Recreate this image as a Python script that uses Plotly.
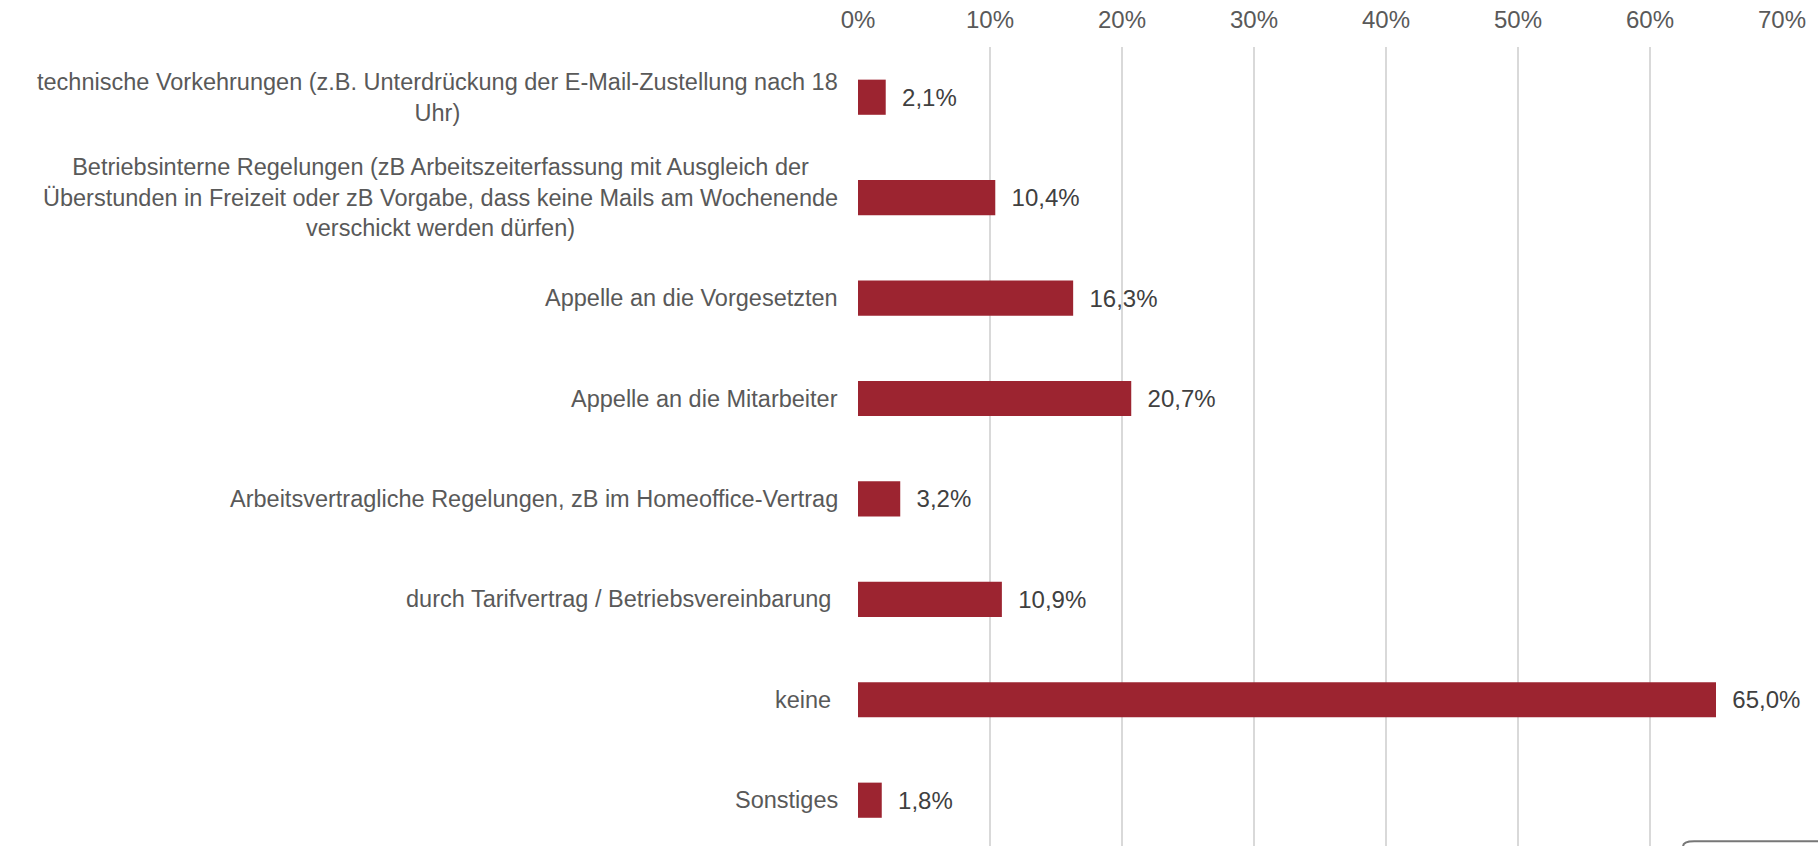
import plotly.graph_objects as go

categories = [
    "technische Vorkehrungen (z.B. Unterdrückung der E-Mail-Zustellung nach 18<br>Uhr)",
    "Betriebsinterne Regelungen (zB Arbeitszeiterfassung mit Ausgleich der<br>Überstunden in Freizeit oder zB Vorgabe, dass keine Mails am Wochenende<br>verschickt werden dürfen)",
    "Appelle an die Vorgesetzten",
    "Appelle an die Mitarbeiter",
    "Arbeitsvertragliche Regelungen, zB im Homeoffice-Vertrag",
    "durch Tarifvertrag / Betriebsvereinbarung\u00a0",
    "keine\u00a0",
    "Sonstiges",
]
values = [2.1, 10.4, 16.3, 20.7, 3.2, 10.9, 65.0, 1.8]
tick_values = [0, 10, 20, 30, 40, 50, 60, 70]
tick_labels = ["0%", "10%", "20%", "30%", "40%", "50%", "60%", "70%"]

FONT = "Liberation Sans, Arial, sans-serif"
BAR = "#9C2430"

fig = go.Figure(
    go.Bar(
        x=values,
        y=categories,
        orientation="h",
        width=0.35,
        marker=dict(color=BAR, line=dict(width=0)),
        texttemplate="\u00a0\u00a0%{x:.1f}%",
        textposition="outside",
        cliponaxis=False,
        textfont=dict(family=FONT, size=24, color="#404040"),
        hoverinfo="skip",
    )
)

for cat in categories:
    fig.add_annotation(
        x=0, xref="paper", y=cat, yref="y",
        text=cat, showarrow=False,
        xanchor="right", yanchor="middle", align="center",
        xshift=-18,
        font=dict(family=FONT, size=23.5, color="#595959"),
    )

fig.update_layout(
    width=1818, height=846,
    margin=dict(l=858, r=36, t=47, b=0),
    paper_bgcolor="white", plot_bgcolor="white",
    separators=",.",
    showlegend=False,
    font=dict(family=FONT, size=24, color="#595959"),
    xaxis=dict(
        side="top", range=[0, 70],
        tickvals=tick_values, ticktext=tick_labels,
        showgrid=True, gridcolor="#D9D9D9", gridwidth=1.5,
        zeroline=False, showline=False, ticks="",
        ticklabelstandoff=13,
        tickfont=dict(family=FONT, size=24, color="#595959"),
    ),
    yaxis=dict(
        type="category", range=[7.456, -0.5],
        showticklabels=False, showgrid=False, zeroline=False, showline=False, ticks="",
    ),
    shapes=[
        dict(type="path", xref="paper", yref="paper",
             path="M 0.893,-0.01 L 0.893,0.0 Q 0.893,0.006 0.905,0.006 L 1.05,0.006",
             line=dict(color="#777777", width=2)),
    ],
)

fig.write_html("out.html", config={"displayModeBar": False},
               post_script="document.body.style.margin='0';")
